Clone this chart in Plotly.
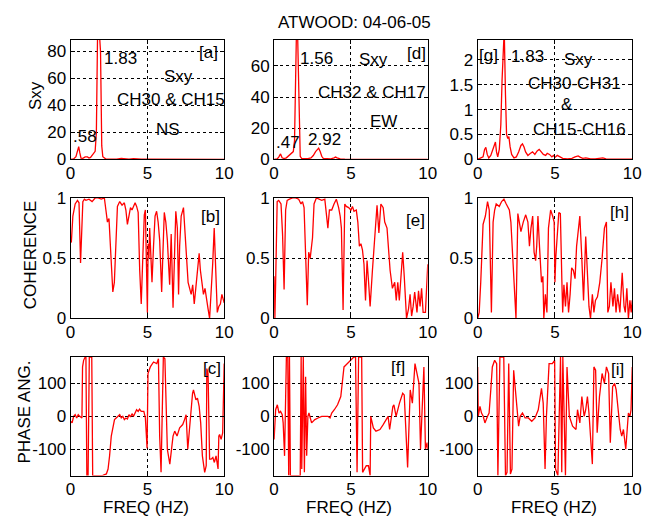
import plotly.graph_objects as go

W, H = 653, 529
FONT = "Liberation Sans"
FS = 17

# ---------------- data ----------------
# [a] Sxy CH30 & CH15 (NS)
a_x = [0, 0.2, 0.35, 0.45, 0.53, 0.6, 0.68, 0.8, 0.95, 1.1,
       1.2, 1.3, 1.4, 1.5, 1.6, 1.68, 1.76, 1.84, 1.95, 2.03,
       2.1, 2.3, 2.6, 3.0, 3.3, 3.5, 3.8, 4.1, 4.3, 4.6,
       5.0, 6.0, 7.0, 8.0, 9.0, 10.0]
a_y = [0, 0.3, 2, 7, 9.5, 5, 1, 0.8, 1.8, 1.8,
       1, 1.5, 3, 4, 6, 20, 95, 100, 80, 10,
       2, 0.3, 0.1, 0.2, 0.8, 0.4, 0.2, 0.6, 0.3, 0.1,
       0.1, 0.05, 0.05, 0.05, 0.05, 0.05]

# [b] coherence
b_x = [0, 0.05, 0.15, 0.3, 0.45, 0.55, 0.65, 0.72, 0.8, 0.9,
       1.0, 1.2, 1.4, 1.6, 1.8, 2.0, 2.2, 2.3, 2.4, 2.5,
       2.6, 2.75, 2.85, 2.95, 3.05, 3.2, 3.35, 3.5, 3.6, 3.7,
       3.8, 3.9, 4.0, 4.1, 4.2, 4.3, 4.4, 4.5, 4.6, 4.7,
       4.8, 4.87, 4.93, 5.0, 5.05, 5.1, 5.15, 5.2, 5.3, 5.4,
       5.5, 5.6, 5.7, 5.8, 5.93, 6.0, 6.1, 6.2, 6.3, 6.45,
       6.55, 6.67, 6.75, 6.85, 6.95, 7.03, 7.1, 7.2, 7.35, 7.45,
       7.55, 7.65, 7.75, 7.85, 7.95, 8.05, 8.15, 8.25, 8.37, 8.45,
       8.55, 8.65, 8.75, 8.85, 8.95, 9.05, 9.15, 9.25, 9.35, 9.45,
       9.55, 9.65, 9.75, 9.85, 9.95, 10.0]
b_y = [0.65, 0.63, 0.85, 0.95, 0.98, 0.96, 0.46, 0.8, 0.97, 0.99,
       0.98, 0.99, 0.97, 1.0, 1.0, 0.99, 1.0, 0.9, 0.8, 0.83,
       0.6, 0.22, 0.3, 0.6, 0.93, 0.97, 0.94, 0.96, 0.9, 0.78,
       0.85, 0.92, 0.9, 0.93, 0.96, 0.93, 0.88, 0.4, 0.12, 0.5,
       0.86, 0.9, 0.6, 0.05, 0.62, 0.5, 0.75, 0.55, 0.3, 0.6,
       0.85, 0.89, 0.8, 0.65, 0.22, 0.5, 0.88, 0.8, 0.65, 0.28,
       0.7, 0.09, 0.5, 0.89, 0.75, 0.2, 0.6, 0.85, 0.92, 0.7,
       0.45, 0.3, 0.25, 0.2, 0.28, 0.12, 0.25, 0.4, 0.54, 0.4,
       0.3, 0.2, 0.25, 0.15, 0.08, 0.0, 0.2, 0.45, 0.75, 0.35,
       0.05, 0.1, 0.12, 0.2, 0.15, 0.13]

# [c] phase angle
c_x = [0, 0.1, 0.2, 0.3, 0.4, 0.5, 0.6, 0.74, 0.78, 0.85,
       0.95, 1.0, 1.06, 1.14, 1.22, 1.3, 1.38, 1.44, 1.5, 1.7,
       1.9, 2.1, 2.33, 2.44, 2.54, 2.65, 2.86, 3.07, 3.2, 3.3,
       3.4, 3.5, 3.6, 3.7, 3.8, 3.9, 4.0, 4.1, 4.2, 4.3,
       4.4, 4.49, 4.6, 4.77, 4.87, 4.98, 5.04, 5.19, 5.4, 5.61,
       5.72, 5.8, 5.89, 5.96, 6.04, 6.14, 6.3, 6.46, 6.57, 6.67,
       6.78, 6.93, 7.1, 7.3, 7.42, 7.52, 7.63, 7.73, 7.94, 8.0,
       8.16, 8.26, 8.37, 8.47, 8.58, 8.73, 8.83, 8.87, 8.95, 9.05,
       9.15, 9.26, 9.36, 9.47, 9.6, 9.65, 9.7, 9.8, 9.9, 10.0]
c_y = [-15, -20, 0, 5, -5, 5, 0, -5, 150, 170,
       180, 180, -180, -180, 180, 180, 180, -180, -180, -178,
       -180, -179, -175, -160, -120, -60, -10, 0, 5, -5,
       0, -10, -5, -8, 5, -2, 8, 0, 10, 20,
       15, 22, 15, 15, -5, -97, 130, 150, 165, 160,
       175, -60, -170, 20, 180, 175, -100, -145, -100, -60,
       -45, -60, -35, -25, -10, 5, -100, -40, 70, 80,
       50, 55, 30, -20, -120, -170, -150, 145, 130, -130,
       -130, -125, -140, -120, -160, -60, -55, -70, -50, 160]

# [d] Sxy CH32 & CH17 (EW)
d_x = [0, 0.2, 0.3, 0.42, 0.52, 0.65, 0.8, 0.95, 1.05, 1.15,
       1.25, 1.33, 1.4, 1.46, 1.52, 1.58, 1.64, 1.7, 1.8, 2.0,
       2.2, 2.4, 2.55, 2.7, 2.8, 2.9, 3.0, 3.1, 3.2, 3.4,
       3.7, 3.9, 4.0, 4.1, 4.3, 4.6, 5.0, 6.0, 7.0, 8.0,
       9.0, 10.0]
d_y = [0, 0.3, 1.5, 3.5, 1.0, 0.5, 1.0, 2.5, 3.5, 4,
       5, 12, 50, 85, 85, 50, 10, 2, 0.5, 0.3,
       0.5, 1.0, 2.5, 5, 6.5, 7.2, 5, 2, 0.6, 0.3,
       0.3, 1.0, 1.5, 1.0, 0.3, 0.1, 0.05, 0.05, 0.05, 0.05,
       0.05, 0.05]

# [e] coherence
e_x = [0, 0.05, 0.1, 0.2, 0.3, 0.45, 0.55, 0.65, 0.75, 0.85,
       1.0, 1.2, 1.4, 1.6, 1.75, 1.85, 1.95, 2.05, 2.16, 2.25,
       2.35, 2.5, 2.6, 2.75, 2.9, 3.1, 3.3, 3.45, 3.5, 3.6,
       3.75, 3.9, 4.05, 4.2, 4.3, 4.38, 4.49, 4.6, 4.7, 4.85,
       5.0, 5.1, 5.2, 5.35, 5.45, 5.55, 5.65, 5.75, 5.85, 5.95,
       6.05, 6.15, 6.25, 6.4, 6.55, 6.7, 6.82, 6.95, 7.1, 7.2,
       7.35, 7.45, 7.55, 7.7, 7.85, 7.95, 8.05, 8.15, 8.25, 8.37,
       8.47, 8.55, 8.62, 8.75, 8.85, 8.95, 9.05, 9.15, 9.3, 9.4,
       9.5, 9.6, 9.7, 9.85, 10.0]
e_y = [0.35, 0.0, 0.3, 0.97, 0.98, 0.95, 0.7, 0.24, 0.9, 0.98,
       0.99, 1.0, 1.0, 0.99, 0.95, 0.97, 0.92, 0.5, 0.11, 0.55,
       0.5, 0.67, 0.95, 1.0, 0.99, 0.98, 0.99, 0.8, 0.75, 0.9,
       0.9, 0.95, 0.99, 0.92, 0.85, 0.75, 0.07, 0.95, 0.93, 0.92,
       0.9, 0.93, 0.89, 0.9, 0.8, 0.6, 0.62, 0.57, 0.45, 0.15,
       0.48, 0.3, 0.1, 0.4, 0.7, 0.94, 0.71, 0.95, 0.92, 0.8,
       0.75, 0.6, 0.4, 0.25, 0.3, 0.15, 0.3, 0.15, 0.3, 0.55,
       0.35, 0.1, 0.0, 0.08, 0.2, 0.02, 0.1, 0.22, 0.05, 0.23,
       0.1, 0.25, 0.05, 0.05, 0.45]

# [f] phase angle
f_x = [0, 0.1, 0.21, 0.32, 0.42, 0.53, 0.59, 0.68, 0.8, 0.89,
       0.95, 1.0, 1.06, 1.1, 1.3, 1.5, 1.7, 1.76, 1.8, 1.9,
       1.97, 2.05, 2.12, 2.2, 2.27, 2.44, 2.65, 2.86, 3.1, 3.3,
       3.5, 3.64, 3.75, 3.92, 4.13, 4.34, 4.45, 4.55, 4.66, 4.87,
       5.08, 5.19, 5.3, 5.4, 5.5, 5.61, 5.7, 5.76, 5.9, 6.0,
       6.14, 6.25, 6.29, 6.46, 6.63, 6.89, 7.1, 7.31, 7.42, 7.52,
       7.73, 7.8, 7.94, 8.16, 8.37, 8.47, 8.69, 8.86, 9.0, 9.17,
       9.32, 9.43, 9.53, 9.65, 9.75, 9.85, 9.96, 10.0]
f_y = [-70, 20, 35, 10, 15, 5, -20, -120, 180, 180,
       -180, 180, -180, -180, -180, -178, -180, 180, -160, 180,
       -170, 120, -120, 0, 10, -20, -10, -5, 0, 0,
       0, -5, 10, 20, 35, 60, 100, 150, 155, 165,
       175, 180, 180, -170, 180, 180, 180, -170, -160, -150,
       -150, -180, 0, -35, -45, -40, -25, -10, 0, -40,
       30, 35, 0, 40, 70, 65, -155, 80, 40, 160,
       130, 100, -100, 60, 150, -100, -80, -100]

# [g] Sxy CH30-CH31 & CH15-CH16
g_x = [0, 0.2, 0.35, 0.45, 0.53, 0.62, 0.72, 0.85, 0.95, 1.05,
       1.15, 1.22, 1.3, 1.4, 1.5, 1.58, 1.65, 1.72, 1.8, 1.87,
       1.95, 2.02, 2.1, 2.2, 2.35, 2.5, 2.65, 2.8, 2.9, 3.0,
       3.1, 3.25, 3.4, 3.55, 3.7, 3.85, 3.98, 4.1, 4.25, 4.4,
       4.5, 4.65, 4.8, 4.9, 5.0, 5.15, 5.3, 5.5, 5.8, 6.1,
       6.3, 6.5, 6.65, 6.8, 7.0, 7.3, 7.6, 7.9, 8.1, 8.3,
       8.6, 9.0, 10.0]
g_y = [0, 0.02, 0.05, 0.2, 0.24, 0.1, 0.03, 0.08, 0.18, 0.28,
       0.35, 0.15, 0.05, 0.2, 0.7, 1.6, 2.6, 2.6, 1.3, 0.5,
       0.42, 0.46, 0.25, 0.1, 0.03, 0.05, 0.15, 0.28, 0.31, 0.25,
       0.15, 0.08, 0.12, 0.15, 0.1, 0.17, 0.2, 0.15, 0.1, 0.08,
       0.12, 0.1, 0.05, 0.08, 0.04, 0.08, 0.05, 0.02, 0.01, 0.02,
       0.05, 0.07, 0.04, 0.02, 0.03, 0.01, 0.01, 0.02, 0.03, 0.01,
       0.01, 0.005, 0.005]

# [h] coherence
h_x = [0, 0.1, 0.2, 0.35, 0.5, 0.64, 0.75, 0.89, 1.0, 1.1,
       1.2, 1.4, 1.55, 1.7, 1.85, 1.95, 2.05, 2.15, 2.3, 2.48,
       2.6, 2.7, 2.8, 2.95, 3.11, 3.25, 3.35, 3.45, 3.56, 3.65,
       3.75, 3.82, 3.9, 4.0, 4.13, 4.22, 4.28, 4.38, 4.48, 4.58,
       4.72, 4.85, 4.95, 5.0, 5.05, 5.25, 5.35, 5.45, 5.5, 5.58,
       5.68, 5.78, 5.88, 5.98, 6.08, 6.19, 6.3, 6.4, 6.5, 6.61,
       6.72, 6.85, 6.99, 7.1, 7.2, 7.3, 7.42, 7.52, 7.62, 7.75,
       7.9, 8.05, 8.2, 8.33, 8.42, 8.52, 8.62, 8.75, 8.85, 8.95,
       9.05, 9.2, 9.35, 9.47, 9.55, 9.65, 9.75, 9.85, 9.93, 10.0]
h_y = [0.0, 0.05, 0.3, 0.78, 0.85, 0.97, 0.9, 0.05, 0.8, 0.9,
       0.95, 0.93, 0.97, 0.99, 0.95, 0.93, 0.9, 0.8, 0.4, 0.0,
       0.87, 0.8, 0.72, 0.8, 0.86, 0.8, 0.6, 0.75, 0.85, 0.55,
       0.48, 0.6, 0.85, 0.6, 0.3, 0.35, 0.0, 0.2, 0.05, 0.75,
       0.9, 0.85, 0.8, 0.3, 0.5, 0.88, 0.87, 0.3, 0.05, 0.28,
       0.1, 0.3, 0.05, 0.2, 0.42, 0.4, 0.33, 0.6, 0.75, 0.85,
       0.55, 0.15, 0.68, 0.4, 0.1, 0.0, 0.2, 0.05, 0.15, 0.18,
       0.3, 0.5, 0.75, 0.8, 0.05, 0.1, 0.3, 0.1, 0.25, 0.05,
       0.2, 0.05, 0.38, 0.1, 0.05, 0.25, 0.0, 0.15, 0.05, 0.15]

# [i] phase angle
i_x = [0, 0.04, 0.15, 0.25, 0.36, 0.47, 0.64, 0.74, 0.85, 0.95,
       1.1, 1.23, 1.31, 1.44, 1.69, 1.8, 1.9, 2.01, 2.12, 2.22,
       2.33, 2.65, 2.75, 2.9, 3.07, 3.28, 3.5, 3.71, 3.92, 4.13,
       4.24, 4.36, 4.45, 4.62, 4.83, 4.98, 5.04, 5.19, 5.36, 5.44,
       5.51, 5.68, 5.78, 5.93, 6.14, 6.36, 6.46, 6.61, 6.74, 6.89,
       6.99, 7.1, 7.2, 7.42, 7.52, 7.63, 7.73, 7.88, 8.05, 8.2,
       8.33, 8.47, 8.58, 8.73, 8.86, 8.96, 9.11, 9.22, 9.32, 9.43,
       9.58, 9.75, 9.85, 9.92, 10.0]
i_y = [150, 0, 30, 10, 0, -20, 0, 10, 80, 150,
       170, 160, -180, 180, 180, -180, -170, 160, -175, -160,
       140, -30, 0, 10, -5, -5, -15, -5, 20, 85,
       40, -160, 0, 160, 160, 170, -160, -180, 180, -170,
       180, -180, 150, 0, -30, -40, 20, -20, 60, 0,
       20, 60, 10, -145, 150, 140, -50, 60, 130, 100,
       150, 130, -80, 90, 100, 80, 10, -40, -60, -40,
       -100, 10, 0, 20, 150]

x_ticks = [0, 5, 10]
sxy_a_ticks = [0, 20, 40, 60, 80]
sxy_d_ticks = [0, 20, 40, 60]
sxy_g_ticks = [0, 0.5, 1, 1.5, 2]
coh_ticks = [0, 0.5, 1]
phase_ticks = [-100, 0, 100]

# ---------------- layout ----------------
col_px = [(67, 224), (275, 432), (483, 641)]
row_px = [(32, 156), (196, 321), (361, 484)]

panels = [
    # col, row, x, y, yrange, yticks
    (0, 0, a_x, a_y, [0, 88.6], sxy_a_ticks),
    (0, 1, b_x, b_y, [0, 1], coh_ticks),
    (0, 2, c_x, c_y, [-180, 180], phase_ticks),
    (1, 0, d_x, d_y, [0, 76.7], sxy_d_ticks),
    (1, 1, e_x, e_y, [0, 1], coh_ticks),
    (1, 2, f_x, f_y, [-180, 180], phase_ticks),
    (2, 0, g_x, g_y, [0, 2.4], sxy_g_ticks),
    (2, 1, h_x, h_y, [0, 1], coh_ticks),
    (2, 2, i_x, i_y, [-180, 180], phase_ticks),
]

fig = go.Figure()
axis_font = dict(family=FONT, size=FS, color="black")
for k, (c, r, xs, ys, yr, yt) in enumerate(panels):
    n = k + 1
    sfx = "" if n == 1 else str(n)
    fig.add_trace(go.Scatter(x=xs, y=ys, mode="lines",
                             line=dict(color="#ff0000", width=1.3),
                             xaxis="x" + sfx, yaxis="y" + sfx,
                             showlegend=False, hoverinfo="skip"))
    x0, x1 = col_px[c]
    y0, y1 = row_px[r]
    common = dict(showline=True, linecolor="black", linewidth=1, mirror="ticks",
                  ticks="inside", ticklen=4, tickcolor="black", tickwidth=1,
                  showgrid=True, gridcolor="black", griddash="dot", gridwidth=1,
                  zeroline=False, tickfont=axis_font, fixedrange=True)
    fig.layout["xaxis" + sfx] = dict(domain=[x0 / W, x1 / W], range=[0, 10],
                                     anchor="y" + sfx, tickvals=x_ticks,
                                     ticktext=[str(v) for v in x_ticks],
                                     ticklabelstandoff=-2, **common)
    fig.layout["yaxis" + sfx] = dict(domain=[1 - y1 / H, 1 - y0 / H], range=yr,
                                     anchor="x" + sfx, tickvals=yt,
                                     ticktext=[("%g" % v) for v in yt],
                                     ticklabelstandoff=0, **common)


def ann(text, x, y, size=FS, angle=0):
    return dict(text=text, x=x / W, y=1 - y / H, xref="paper", yref="paper",
                showarrow=False, xanchor="center", yanchor="middle",
                textangle=angle, font=dict(family=FONT, size=size, color="black"))


annotations = [
    ann("ATWOOD: 04-06-05", 357, 14),
    ann("Sxy", 31, 90, angle=-90),
    ann("COHERENCE", 26, 255, angle=-90),
    ann("PHASE ANG.", 20, 418, angle=-90),
    ann("FREQ (HZ)", 144, 517),
    ann("FREQ (HZ)", 352, 517),
    ann("FREQ (HZ)", 561, 517),
    # panel a
    ann("1.83", 118, 51), ann("[a]", 208, 45), ann("Sxy", 177, 70),
    ann("CH30 & CH15", 170, 94), ann("NS", 167, 125), ann(".58", 82, 132),
    # panel d
    ann("1.56", 318, 51), ann("Sxy", 377, 52), ann("[d]", 421, 46),
    ann("CH32 & CH17", 375, 87), ann("EW", 387, 117), ann(".47", 289, 138),
    ann("2.92", 327, 135),
    # panel g
    ann("[g]", 494, 48), ann("1.83", 534, 49), ann("Sxy", 586, 52),
    ann("CH30-CH31", 582, 77), ann("&", 574, 99), ann("CH15-CH16", 587, 125),
    # row 2 / row 3 labels
    ann("[b]", 210, 215), ann("[e]", 419, 219), ann("[h]", 628, 211),
    ann("[c]", 212, 373), ann("[f]", 402, 372), ann("[i]", 626, 374),
]

fig.update_layout(width=W, height=H, margin=dict(l=0, r=0, t=0, b=0),
                  paper_bgcolor="white", plot_bgcolor="white",
                  font=dict(family=FONT, size=FS, color="black"),
                  annotations=annotations, showlegend=False)

fig.write_html("out.html")
